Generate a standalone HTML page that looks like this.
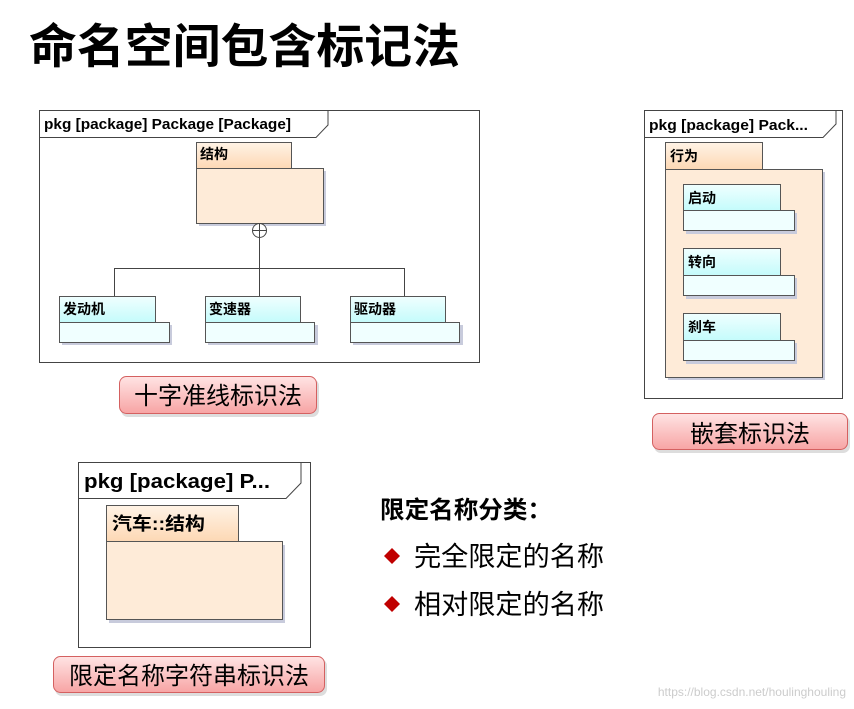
<!DOCTYPE html>
<html><head><meta charset="utf-8"><style>
body{margin:0;background:#fff;}
svg{display:block;font-family:"Liberation Sans","Noto Sans CJK SC",sans-serif;}
.b{font-weight:bold;}
</style></head><body>
<svg width="854" height="709" viewBox="0 0 854 709" xmlns="http://www.w3.org/2000/svg">
<defs>
<linearGradient id="or" x1="0" y1="0" x2="0" y2="1"><stop offset="0" stop-color="#fff3e6"/><stop offset="1" stop-color="#fdd8b4"/></linearGradient>
<linearGradient id="cy" x1="0" y1="0" x2="0" y2="1"><stop offset="0" stop-color="#f0ffff"/><stop offset="1" stop-color="#c4fbfb"/></linearGradient>
<linearGradient id="rd" x1="0" y1="0" x2="0" y2="1"><stop offset="0" stop-color="#ffe4e4"/><stop offset="1" stop-color="#f7a4a4"/></linearGradient>
</defs>
<text x="29" y="63" font-size="47" class="b" fill="#000" textLength="431" lengthAdjust="spacingAndGlyphs">命名空间包含标记法</text>

<!-- Diagram 1 -->
<rect x="39.5" y="110.5" width="440" height="252" fill="#fff" stroke="#444"/>
<path d="M39.5 137.5 H316 L328 125 V110.5" fill="none" stroke="#444"/>
<text x="44" y="129" font-size="15" class="b" textLength="247" lengthAdjust="spacingAndGlyphs">pkg [package] Package [Package]</text>
<rect x="199" y="171" width="127" height="55" fill="#c8cbdc"/>
<rect x="196.5" y="142.5" width="95" height="26" fill="url(#or)" stroke="#555"/>
<rect x="196.5" y="168.5" width="127" height="55" fill="#feebd8" stroke="#555"/>
<text x="200" y="159" font-size="14" class="b">结构</text>
<circle cx="259.5" cy="230.5" r="7" fill="#fff" stroke="#444"/>
<path d="M252.5 230.5 H266.5 M259.5 223.5 V268.5 M114.5 296 V268.5 H404.5 V296 M259.5 268.5 V296" fill="none" stroke="#444"/>
<g>
<rect x="62" y="325" width="110" height="20" fill="#c8cbdc"/>
<rect x="59.5" y="296.5" width="96" height="26" fill="url(#cy)" stroke="#555"/>
<rect x="59.5" y="322.5" width="110" height="20" fill="#f0ffff" stroke="#555"/>
<text x="63" y="314" font-size="14" class="b">发动机</text>
<rect x="208" y="325" width="110" height="20" fill="#c8cbdc"/>
<rect x="205.5" y="296.5" width="95" height="26" fill="url(#cy)" stroke="#555"/>
<rect x="205.5" y="322.5" width="109" height="20" fill="#f0ffff" stroke="#555"/>
<text x="209" y="314" font-size="14" class="b">变速器</text>
<rect x="353" y="325" width="110" height="20" fill="#c8cbdc"/>
<rect x="350.5" y="296.5" width="95" height="26" fill="url(#cy)" stroke="#555"/>
<rect x="350.5" y="322.5" width="109" height="20" fill="#f0ffff" stroke="#555"/>
<text x="354" y="314" font-size="14" class="b">驱动器</text>
</g>
<rect x="121" y="379" width="198" height="38" rx="7" fill="#ddd"/>
<rect x="119.5" y="376.5" width="197" height="37" rx="7" fill="url(#rd)" stroke="#d46060"/>
<text x="218" y="404" font-size="24" text-anchor="middle">十字准线标识法</text>

<!-- Diagram 2 -->
<rect x="644.5" y="110.5" width="198" height="288" fill="#fff" stroke="#444"/>
<path d="M644.5 137.5 H823 L836 124 V110.5" fill="none" stroke="#444"/>
<text x="649" y="130" font-size="15" class="b" textLength="159" lengthAdjust="spacingAndGlyphs">pkg [package] Pack...</text>
<rect x="668" y="172" width="157" height="208" fill="#c8cbdc"/>
<rect x="665.5" y="142.5" width="97" height="27" fill="url(#or)" stroke="#555"/>
<rect x="665.5" y="169.5" width="157" height="208" fill="#feebd8" stroke="#555"/>
<text x="670" y="161" font-size="14" class="b">行为</text>
<g>
<rect x="686" y="213" width="111" height="21" fill="#c8cbdc"/>
<rect x="683.5" y="184.5" width="97" height="26" fill="url(#cy)" stroke="#555"/>
<rect x="683.5" y="210.5" width="111" height="20" fill="#f0ffff" stroke="#555"/>
<text x="688" y="203" font-size="14" class="b">启动</text>
<rect x="686" y="278" width="111" height="21" fill="#c8cbdc"/>
<rect x="683.5" y="248.5" width="97" height="27" fill="url(#cy)" stroke="#555"/>
<rect x="683.5" y="275.5" width="111" height="20" fill="#f0ffff" stroke="#555"/>
<text x="688" y="267" font-size="14" class="b">转向</text>
<rect x="686" y="343" width="111" height="21" fill="#c8cbdc"/>
<rect x="683.5" y="313.5" width="97" height="27" fill="url(#cy)" stroke="#555"/>
<rect x="683.5" y="340.5" width="111" height="20" fill="#f0ffff" stroke="#555"/>
<text x="688" y="332" font-size="14" class="b">刹车</text>
</g>
<rect x="654" y="416" width="196" height="37" rx="7" fill="#ddd"/>
<rect x="652.5" y="413.5" width="195" height="36" rx="7" fill="url(#rd)" stroke="#d46060"/>
<text x="750" y="442" font-size="24" text-anchor="middle">嵌套标识法</text>

<!-- Diagram 3 -->
<rect x="78.5" y="462.5" width="232" height="185" fill="#fff" stroke="#444"/>
<path d="M78.5 498.5 H286 L301 483 V462.5" fill="none" stroke="#444"/>
<text x="84" y="488" font-size="20" class="b" textLength="186" lengthAdjust="spacingAndGlyphs">pkg [package] P...</text>
<rect x="109" y="545" width="176" height="78" fill="#c8cbdc"/>
<rect x="106.5" y="505.5" width="132" height="36" fill="url(#or)" stroke="#555"/>
<rect x="106.5" y="541.5" width="176" height="78" fill="#feebd8" stroke="#555"/>
<text x="112" y="530" font-size="18" class="b" textLength="93" lengthAdjust="spacingAndGlyphs">汽车::结构</text>
<rect x="55" y="659" width="272" height="37" rx="7" fill="#ddd"/>
<rect x="53.5" y="656.5" width="271" height="36" rx="7" fill="url(#rd)" stroke="#d46060"/>
<text x="189" y="684" font-size="24" text-anchor="middle">限定名称字符串标识法</text>

<!-- Text -->
<text x="380" y="518" font-size="24" class="b" textLength="172" lengthAdjust="spacingAndGlyphs">限定名称分类：</text>
<path d="M384 556 L392 548 L400 556 L392 564 Z" fill="#c00000"/>
<text x="414" y="566" font-size="27" textLength="190" lengthAdjust="spacingAndGlyphs">完全限定的名称</text>
<path d="M384 604 L392 596 L400 604 L392 612 Z" fill="#c00000"/>
<text x="414" y="614" font-size="27" textLength="190" lengthAdjust="spacingAndGlyphs">相对限定的名称</text>
<text x="846" y="696" font-size="12" fill="#ccc" text-anchor="end">https://blog.csdn.net/houlinghouling</text>
</svg>
</body></html>
